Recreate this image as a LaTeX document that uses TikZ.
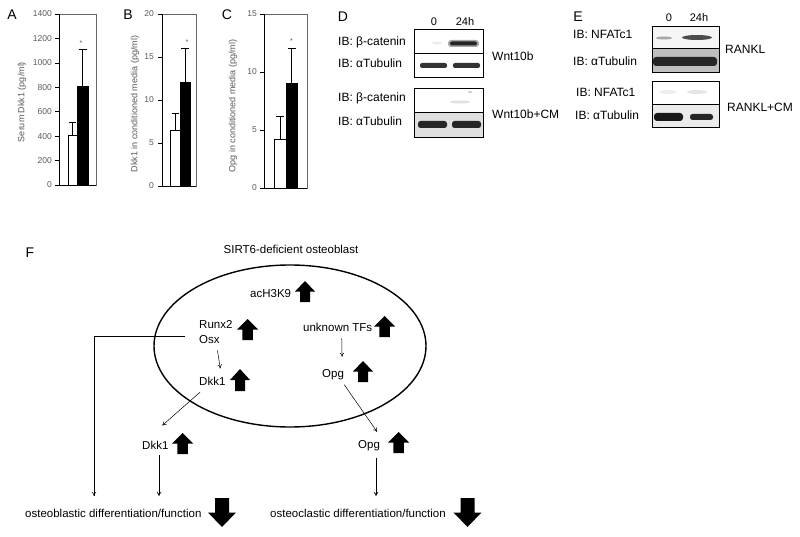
\documentclass[tikz,border=0pt]{standalone}
\usepackage{fontspec}
\setmainfont{Liberation Sans}
\usetikzlibrary{arrows.meta}

\tikzset{
  letter/.style={font=\fontsize{14}{16}\selectfont, inner sep=0pt},
  tick/.style={font=\fontsize{8.5}{10}\selectfont, text=black!65, anchor=east, inner sep=0pt},
  ylab/.style={font=\fontsize{9}{10}\selectfont, text=black!65, rotate=90, inner sep=0pt},
  star/.style={font=\fontsize{7}{8}\selectfont, text=black!65, inner sep=0pt},
  ib/.style={font=\fontsize{12}{14}\selectfont, anchor=base west, inner sep=0pt},
  lane/.style={font=\fontsize{11}{13}\selectfont, inner sep=0pt},
  lbl/.style={font=\fontsize{11.5}{13}\selectfont, anchor=base west, inner sep=0pt},
  conn/.style={-{To[length=4pt,width=4.5pt]}, line width=0.5pt},
  uparr/.pic={\fill (0,-1) -- (1,0) -- (0.5,0) -- (0.5,1) -- (-0.5,1) -- (-0.5,0) -- (-1,0) -- cycle;}
}

\begin{document}
\begin{tikzpicture}[x=1pt,y=-1pt]
    \useasboundingbox (0,0) rectangle (800,537);

    % panel A
    \node[letter] (labA) at (12,15) {A};
    \begin{scope}[shift={(59,185)}, yscale=-0.12214]
        \draw[black!60, line width=0.4pt] (0,0) rectangle (37,1400);
        \draw[line width=0.5pt] (0,1400) -- (0,0) -- (37,0);
        \foreach \v in {0,200,...,1400} {
            \draw[line width=0.5pt] (-4,\v) -- (0,\v);
            \node[tick] at (-7,\v) {\v};
        }
        \draw[line width=0.6pt, fill=white] (9,0) rectangle (18,410);
        \draw[line width=0.6pt, fill=black] (18,0) rectangle (29,808);
        \draw[line width=0.6pt] (13.5,410) -- (13.5,510) (10,510) -- (17,510);
        \draw[line width=0.6pt] (23.5,808) -- (23.5,1110) (19.5,1110) -- (27.5,1110);
        \node[star] at (22,1165) {*};
    \end{scope}
    \node[ylab] (yA) at (22,102) {Serum Dkk1 (pg/ml)};

    % panel B
    \node[letter] (labB) at (128,15) {B};
    \begin{scope}[shift={(162,186)}, yscale=-8.6]
        \draw[black!60, line width=0.4pt] (0,0) rectangle (34,20);
        \draw[line width=0.5pt] (0,20) -- (0,0) -- (34,0);
        \foreach \v in {0,5,...,20} {
            \draw[line width=0.5pt] (-4,\v) -- (0,\v);
            \node[tick] at (-8,\v) {\v};
        }
        \draw[line width=0.6pt, fill=white] (8,0) rectangle (18,6.5);
        \draw[line width=0.6pt, fill=black] (18,0) rectangle (28,12);
        \draw[line width=0.6pt] (13,6.5) -- (13,8.5) (9.5,8.5) -- (16.5,8.5);
        \draw[line width=0.6pt] (23,12) -- (23,16) (19,16) -- (27,16);
        \node[star] at (25,16.7) {*};
    \end{scope}
    \node[ylab] (yB) at (135,104) {Dkk1 in conditioned media (pg/ml)};

    % panel C
    \node[letter] (labC) at (227,15) {C};
    \begin{scope}[shift={(264,188)}, yscale=-11.6]
        \draw[black!60, line width=0.4pt] (0,0) rectangle (43,15);
        \draw[line width=0.5pt] (0,15) -- (0,0) -- (43,0);
        \foreach \v in {0,5,...,15} {
            \draw[line width=0.5pt] (-4,\v) -- (0,\v);
            \node[tick] at (-7,\v) {\v};
        }
        \draw[line width=0.6pt, fill=white] (10,0) rectangle (22,4.2);
        \draw[line width=0.6pt, fill=black] (22,0) rectangle (33,9);
        \draw[line width=0.6pt] (16,4.2) -- (16,6.2) (12,6.2) -- (20,6.2);
        \draw[line width=0.6pt] (27.5,9) -- (27.5,12) (23.5,12) -- (31.5,12);
        \node[star] at (27.5,12.7) {*};
    \end{scope}
    \node[ylab] (yC) at (233,106) {Opg in conditioned media (pg/ml)};

    % panel D
    \node[letter] (labD) at (343,17) {D};
    \node[lane] (d0) at (434,22) {0};
    \node[lane] (d24) at (465,22) {24h};
    \fill[black!8] (437,43) ellipse [x radius=5, y radius=1.5];
    \fill[black!35, rounded corners=3pt] (448,40) rectangle (479,47);
    \fill[black!85, rounded corners=2pt] (450,41.5) rectangle (477,45.5);
    \fill[black!80, rounded corners=2pt] (420,63) rectangle (447,68);
    \fill[black!80, rounded corners=2pt] (453,63) rectangle (480,68);
    \draw[line width=0.6pt] (414,29) rectangle (483,77) (414,53) -- (483,53);
    \fill[black!12] (414,112) rectangle (483,137);
    \fill[black!12] (460,102) ellipse [x radius=10, y radius=1.5];
    \fill[black!20] (470,92) ellipse [x radius=2, y radius=1];
    \fill[black!85, rounded corners=2.5pt] (418,121) rectangle (447,128);
    \fill[black!85, rounded corners=2.5pt] (452,121) rectangle (481,128);
    \draw[line width=0.6pt] (414,88) rectangle (483,137) (414,112) -- (483,112);
    \node[ib] (dA1) at (338,46) {IB: β-catenin};
    \node[ib] (dB1) at (338,68) {IB: αTubulin};
    \node[ib] (dA2) at (338,102) {IB: β-catenin};
    \node[ib] (dB2) at (338,126) {IB: αTubulin};
    \node[ib] (wnt) at (492,61) {Wnt10b};
    \node[ib] (wntcm) at (492,119) {Wnt10b+CM};

    % panel E
    \node[letter] (labE) at (578,17) {E};
    \node[lane] (e0) at (669,18) {0};
    \node[lane] (e24) at (699,18) {24h};
    \fill[black!4] (652,26) rectangle (719,48);
    \fill[black!35] (664,38) ellipse [x radius=8, y radius=1.5];
    \fill[black!70] (697,37.5) ellipse [x radius=15, y radius=2.5];
    \fill[black!25] (652,48) rectangle (719,72);
    \fill[black!85, rounded corners=3pt] (653,57) rectangle (717,66);
    \draw[line width=0.6pt] (652,26) rectangle (719,72) (652,48) -- (719,48);
    \fill[black!8] (652,104) rectangle (719,127);
    \fill[black!7] (668,92) ellipse [x radius=8, y radius=2];
    \fill[black!10] (697,92) ellipse [x radius=10, y radius=2];
    \fill[black!90, rounded corners=3pt] (654,113) rectangle (683,121);
    \fill[black!85, rounded corners=2.5pt] (690,114) rectangle (713,120);
    \draw[line width=0.6pt] (652,81) rectangle (719,127) (652,104) -- (719,104);
    \node[ib] (eA1) at (573,39) {IB: NFATc1};
    \node[ib] (eB1) at (573,66) {IB: αTubulin};
    \node[ib] (eA2) at (576,97) {IB: NFATc1};
    \node[ib] (eB2) at (575,120) {IB: αTubulin};
    \node[ib] (rankl) at (725,54) {RANKL};
    \node[ib] (ranklcm) at (727,112) {RANKL+CM};

    % panel F
    \node[letter] (labF) at (30,253) {F};
    \node[lbl, anchor=base] (cell) at (291,254) {SIRT6-deficient osteoblast};
    \draw[line width=1.4pt] (290,346) ellipse [x radius=136, y radius=81];

    \node[lbl] (ach) at (250,297) {acH3K9};
    \node[lbl] (runx) at (199,328) {Runx2};
    \node[lbl] (osx) at (199,343) {Osx};
    \node[lbl] (tfs) at (303,331) {unknown TFs};
    \node[lbl] (dkkin) at (199,385) {Dkk1};
    \node[lbl] (opgin) at (322,377) {Opg};
    \node[lbl] (dkkout) at (142,449) {Dkk1};
    \node[lbl] (opgout) at (358,448) {Opg};
    \node[lbl] (obdiff) at (25,517) {osteoblastic differentiation/function};
    \node[lbl] (ocdiff) at (270,517) {osteoclastic differentiation/function};

    \pic[xscale=10,yscale=10.5] at (305,291.5) {uparr};
    \pic[xscale=10.5,yscale=10.5] at (247.5,329.5) {uparr};
    \pic[xscale=10.5,yscale=10.5] at (384.5,326.5) {uparr};
    \pic[xscale=10,yscale=11] at (240,380) {uparr};
    \pic[xscale=10,yscale=10.5] at (363,371.5) {uparr};
    \pic[xscale=10.5,yscale=10.5] at (182.5,443.5) {uparr};
    \pic[xscale=10.5,yscale=10.5] at (398.5,442.5) {uparr};
    \pic[xscale=14,yscale=-14.5] at (222,512.5) {uparr};
    \pic[xscale=14,yscale=-14.5] at (467.5,512.5) {uparr};

    \coordinate (obtip) at (94,496);
    \coordinate (dkktip) at (159,496);
    \coordinate (octip) at (376,496);

    \draw[conn] ([xshift=-14pt,yshift=3pt]osx.west) -| (obtip);
    \draw[conn] ([xshift=8pt,yshift=-7pt]osx.south) -- ([xshift=8pt,yshift=8pt]dkkin.north);
    \draw[conn] ([xshift=4pt,yshift=-7pt]tfs.south) -- ([xshift=9pt,yshift=12pt]opgin.north);
    \draw[conn] ([xshift=1pt,yshift=-7pt]dkkin.south west) -- ([xshift=7pt,yshift=15pt]dkkout.north);
    \draw[conn] ([yshift=-5pt]opgin.south east) -- ([xshift=8pt,yshift=8pt]opgout.north);
    \draw[conn, line width=0.7pt, shorten <=6pt] (dkktip |- dkkout.south) -- (dkktip);
    \draw[conn, line width=0.7pt, shorten <=7pt] (octip |- opgout.south) -- (octip);
\end{tikzpicture}
\end{document}
